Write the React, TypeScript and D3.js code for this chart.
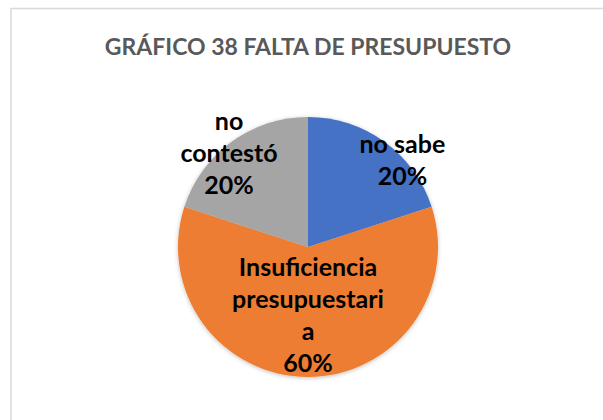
import * as d3 from 'd3';

// chart values
const categories = ['no sabe', 'Insuficiencia presupuestaria', 'no contestó'];
const values = [20, 60, 20];
const colors = ['#4472C4', '#ED7D31', '#A5A5A5'];
// labels as Excel wrapped them
const labelLines = [
  ['no sabe', '20%'],
  ['Insuficiencia', 'presupuestari', 'a', '60%'],
  ['no', 'contestó', '20%'],
];
const title = 'GRÁFICO 38 FALTA DE PRESUPUESTO';

const width = 603;
const height = 420;
const cx = 308;
const cy = 247;
const radius = 130;
const lineHeight = 32;

const App = () => {
  const pie = d3.pie<number>().sort(null).value(d => d);
  const arcs = pie(values);
  const arc = d3.arc<d3.PieArcDatum<number>>().innerRadius(0).outerRadius(radius);
  const labelArc = d3.arc<d3.PieArcDatum<number>>()
    .innerRadius(radius * 0.62)
    .outerRadius(radius * 0.62);

  // nudges so labels sit where Excel put them
  const offsets = [[47, -22], [0, -12.6], [-31.6, -28.8]];

  return (
    <svg width={width} height={height} style={{ position: 'absolute', left: 0, top: 0 }}>
      <defs>
        <filter id="sh" x="-20%" y="-20%" width="140%" height="140%">
          <feDropShadow dx="0" dy="1" stdDeviation="2" floodColor="#000" floodOpacity="0.25" />
        </filter>
      </defs>
      <rect x={0} y={0} width={width} height={height} fill="#fff" />
      <rect x={11} y={8.5} width={620} height={440} fill="#fff" stroke="#D9D9D9" strokeWidth={1.5} />
      <text
        x={cx}
        y={55}
        textAnchor="middle"
        fontFamily="Lato, 'Open Sans', sans-serif"
        fontWeight="bold"
        fontSize={23}
        fill="#595959"
      >
        {title}
      </text>
      <g transform={`translate(${cx},${cy})`}>
        <g filter="url(#sh)">
          {arcs.map((a, i) => (
            <path key={categories[i]} d={arc(a) || ''} fill={colors[i]} />
          ))}
        </g>
        {arcs.map((a, i) => {
          const [lx, ly] = labelArc.centroid(a);
          const lines = labelLines[i];
          const x = lx + offsets[i][0];
          const y0 = ly + offsets[i][1] - ((lines.length - 1) * lineHeight) / 2;
          return (
            <text
              key={categories[i]}
              textAnchor="middle"
              fontFamily="Lato, 'Open Sans', sans-serif"
              fontWeight="bold"
              fontSize={25}
              fill="#000"
            >
              {lines.map((l, j) => (
                <tspan key={j} x={x} y={y0 + j * lineHeight + 9}>{l}</tspan>
              ))}
            </text>
          );
        })}
      </g>
    </svg>
  );
};

export default App;
